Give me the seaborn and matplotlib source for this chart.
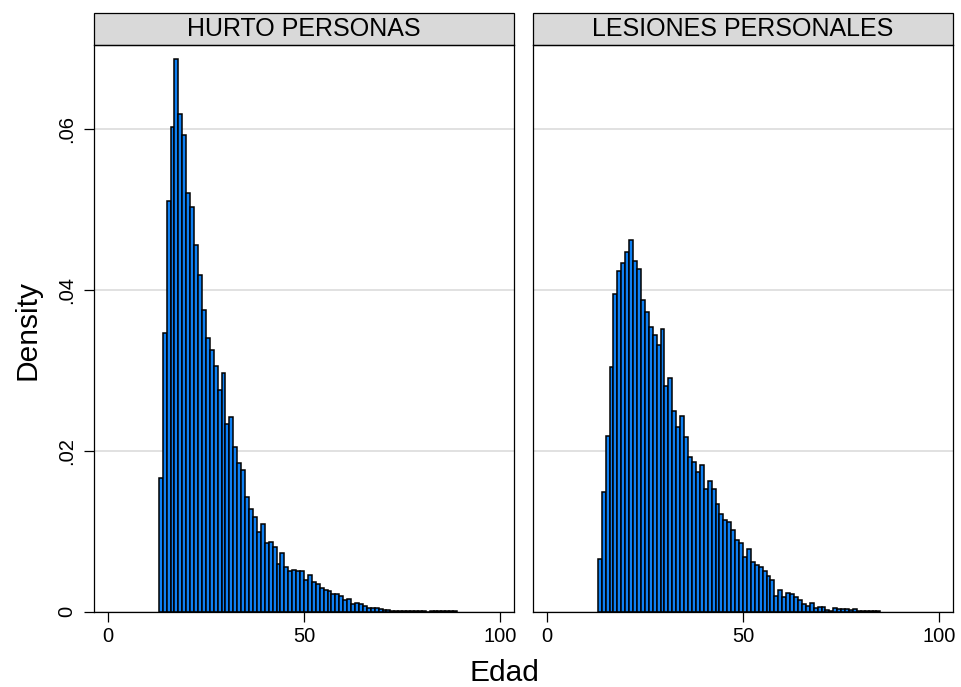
import numpy as np
import pandas as pd
import matplotlib
matplotlib.use('Agg')
import matplotlib.pyplot as plt
from matplotlib.patches import Rectangle
import seaborn as sns

# Densities per 1-year age bin
hurto_edad = np.arange(13, 89)
hurto_dens = [
    0.0166, 0.0347, 0.0511, 0.0602, 0.0687, 0.0619, 0.0592, 0.0521, 0.0503, 0.0456,  # 13-22
    0.0418, 0.0375, 0.0340, 0.0325, 0.0306, 0.0275, 0.0297, 0.0233, 0.0242, 0.0205,  # 23-32
    0.0185, 0.0176, 0.0142, 0.0128, 0.0118, 0.0099, 0.0109, 0.0085, 0.0087, 0.0081,  # 33-42
    0.0059, 0.0073, 0.0056, 0.0051, 0.0052, 0.0051, 0.0050, 0.0040, 0.0045, 0.0037,  # 43-52
    0.0034, 0.0030, 0.0027, 0.0026, 0.0022, 0.0022, 0.0019, 0.0014, 0.0016, 0.0010,  # 53-62
    0.0011, 0.0009, 0.0007, 0.0005, 0.0004, 0.0004, 0.0003, 0.0002, 0.0002, 0.0001,  # 63-72
    0.0001, 0.0001, 0.0001, 0.0001, 0.0001, 0.0001, 0.0001, 0.0001, 0.0, 0.0001,     # 73-82
    0.0001, 0.0001, 0.00005, 0.0001, 0.0001, 0.00005,                                # 83-88
]

lesiones_edad = np.arange(13, 85)
lesiones_dens = [
    0.0066, 0.0149, 0.0219, 0.0304, 0.0395, 0.0423, 0.0433, 0.0447, 0.0462, 0.0436,  # 13-22
    0.0426, 0.0388, 0.0372, 0.0354, 0.0344, 0.0331, 0.0351, 0.0281, 0.0291, 0.0249,  # 23-32
    0.0230, 0.0243, 0.0217, 0.0192, 0.0186, 0.0174, 0.0182, 0.0152, 0.0163, 0.0152,  # 33-42
    0.0134, 0.0122, 0.0114, 0.0111, 0.0101, 0.0089, 0.0086, 0.0068, 0.0078, 0.0062,  # 43-52
    0.0058, 0.0056, 0.0051, 0.0044, 0.0039, 0.0020, 0.0027, 0.0018, 0.0023, 0.0022,  # 53-62
    0.0018, 0.0015, 0.0010, 0.0007, 0.0011, 0.0005, 0.0006, 0.0006, 0.0002, 0.0001,  # 63-72
    0.0004, 0.0003, 0.0003, 0.0003, 0.0002, 0.0003, 0.0001, 0.0001, 0.0001, 0.0001,  # 73-82
    0.0001, 0.0001,                                                                  # 83-84
]

paneles = ['HURTO PERSONAS', 'LESIONES PERSONALES']
x_ticks = [0, 50, 100]
y_ticks = [0, 0.02, 0.04, 0.06]
y_ticklabels = ['0', '.02', '.04', '.06']

sns.set_style('white')
plt.rcParams['font.family'] = ['Liberation Sans', 'DejaVu Sans']
plt.rcParams['text.color'] = 'black'
plt.rcParams['xtick.color'] = 'black'
plt.rcParams['ytick.color'] = 'black'

fig = plt.figure(figsize=(9.62, 6.87), dpi=100)
ax_w = 420 / 962
ax_b = 1 - 611.7 / 687
ax_h = (611.7 - 45) / 687
axes = [fig.add_axes([94 / 962, ax_b, ax_w, ax_h]),
        fig.add_axes([533 / 962, ax_b, ax_w, ax_h])]

datos = [(hurto_edad, hurto_dens), (lesiones_edad, lesiones_dens)]
for i, (ax, titulo, (edad, dens)) in enumerate(zip(axes, paneles, datos)):
    df = pd.DataFrame({'edad': edad, 'dens': dens})
    bordes = list(range(int(edad[0]), int(edad[-1]) + 2))
    sns.histplot(data=df, x='edad', weights='dens', bins=bordes,
                 stat='count', color='#0f80f2', edgecolor='black', linewidth=1.1,
                 alpha=1, ax=ax)
    ax.set_xlim(-3.5, 103.5)
    ax.set_ylim(0, 0.07044)
    ax.set_xlabel('')
    ax.set_ylabel('')
    ax.set_xticks(x_ticks)
    ax.set_xticklabels([str(t) for t in x_ticks], fontsize=14.5)
    ax.set_yticks(y_ticks)
    ax.set_axisbelow(True)
    ax.yaxis.grid(True, color='#dcdcdc', linewidth=1.2)
    ax.tick_params(axis='x', direction='out', length=7, width=0.9, pad=4, bottom=True)
    if i == 0:
        ax.set_yticklabels(y_ticklabels, fontsize=14.5, rotation=90, va='center')
        ax.tick_params(axis='y', direction='out', length=7, width=0.9, pad=6, left=True)
    else:
        ax.set_yticklabels([])
        ax.tick_params(axis='y', left=False)
    for s in ax.spines.values():
        s.set_color('black')
        s.set_linewidth(0.9)
    # strip header like Stata's by() title box
    hh = 32 / 566.7
    ax.add_patch(Rectangle((0, 1), 1, hh, transform=ax.transAxes, clip_on=False,
                           facecolor='#d9d9d9', edgecolor='black', linewidth=0.9))
    ax.text(0.5, 1 + hh / 2, titulo, transform=ax.transAxes, ha='center', va='center',
            fontsize=18)

fig.text(28 / 962, 1 - 330 / 687, 'Density', rotation=90, ha='center', va='center',
         fontsize=21.5)
fig.text(504 / 962, 1 - 673 / 687, 'Edad', ha='center', va='center', fontsize=21.5)

fig.savefig('out.png', dpi=100, facecolor='white')
